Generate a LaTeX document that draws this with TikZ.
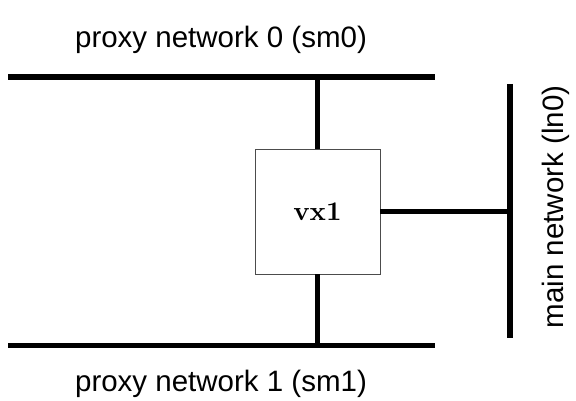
\documentclass[tikz,border=0pt]{standalone}
\usepackage{fontspec}
\setmainfont{Liberation Sans}
\newfontfamily\hostfont[Extension=.otf]{lmroman10-bold}
\usetikzlibrary{positioning}
\tikzset{
  netbus/.style   = {line width=5.5pt},
  link/.style     = {line width=5.5pt},
  host/.style     = {draw=black!70, line width=0.8pt, rectangle,
                     minimum width=125pt, minimum height=125pt,
                     font=\hostfont\fontsize{27}{31}\selectfont},
  netlabel/.style = {font=\fontsize{29.5}{34}\selectfont, inner sep=0pt},
}

\begin{document}
\begin{tikzpicture}[x=1pt, y=-1pt]
\useasboundingbox (0,0) rectangle (576,401);
% ---- buses ----
\coordinate (sm0w) at (8,77);
\coordinate (sm0e) at (435,77);
\coordinate (sm1w) at (8,345.5);
\coordinate (sm1e) at (435,345.5);
\coordinate (ln0n) at (510,84);
\coordinate (ln0s) at (510,338);
\draw[netbus] (sm0w) -- (sm0e);
\draw[netbus] (sm1w) -- (sm1e);
\draw[netbus] (ln0n) -- (ln0s);
% ---- host ----
\node[host] (vx1) at (317.5,211.5) {vx1};
\draw[link] (vx1.north) -- (vx1.north |- sm0w);
\draw[link] (vx1.south) -- (vx1.south |- sm1w);
\draw[link] (vx1.east) -- (vx1.east -| ln0n);
% ---- labels ----
\node[netlabel] (sm0lbl) at (221,40) {proxy network 0 (sm0)};
\node[netlabel] (sm1lbl) at (221,384) {proxy network 1 (sm1)};
\node[netlabel, rotate=90] (ln0lbl) at (556,207) {main network (ln0)};
\end{tikzpicture}
\end{document}
